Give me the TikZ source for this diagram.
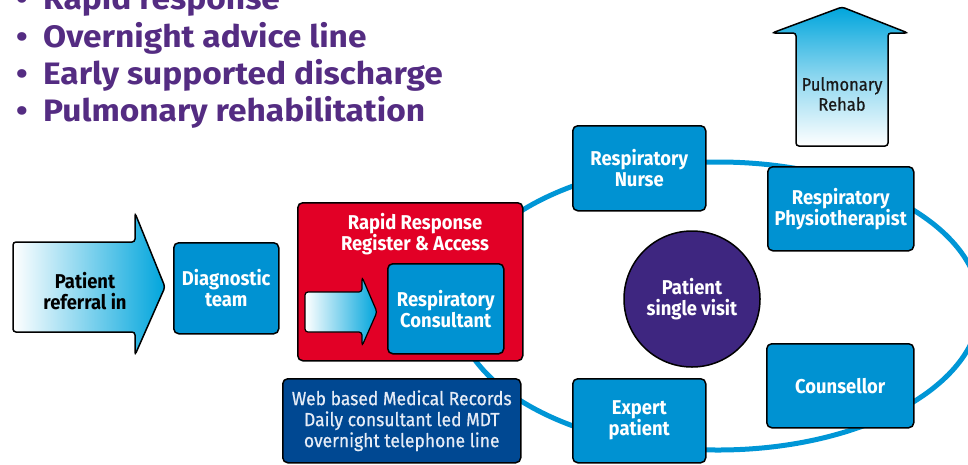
\documentclass[tikz,border=0pt]{standalone}
\usepackage{fontspec}
\setmainfont{Fira Sans}
\newfontfamily\cond[FakeStretch=0.92]{Fira Sans}
\newfontfamily\condmed[FakeStretch=0.92,FakeBold=0.6]{Fira Sans}
\newfontfamily\wide[FakeStretch=1.08]{Fira Sans}
\definecolor{boxblue}{RGB}{0,146,210}
\definecolor{arrblue}{RGB}{0,165,220}
\definecolor{ellblue}{RGB}{0,150,214}
\definecolor{rrred}{RGB}{226,0,38}
\definecolor{webblue}{RGB}{0,72,146}
\definecolor{circpurple}{RGB}{62,38,128}
\definecolor{txtpurple}{RGB}{84,44,130}
\definecolor{webtext}{RGB}{230,236,246}
\begin{document}
\begin{tikzpicture}[x=1pt,y=-1pt,
  box/.style={draw=black, line width=1.5pt, rounded corners=5pt, fill=boxblue,
    text=white, font=\cond\bfseries\fontsize{20}{21}\selectfont, align=center,
    inner sep=0pt, anchor=north west},
  bullettext/.style={anchor=base west, text=txtpurple, font=\wide\bfseries\fontsize{31}{31}\selectfont, inner sep=0pt},
  bulletdot/.style={anchor=base, text=txtpurple, font=\wide\bfseries\fontsize{31}{31}\selectfont, inner sep=0pt},
  arrowshape/.style={draw=black, line width=1.5pt, rounded corners=3pt},
]
\useasboundingbox (0,0) rectangle (968,464);

% bullets
\node[bulletdot] (d1) at (22,9) {•};
\node[bullettext] (t1) at (43,9) {Rapid response};
\node[bulletdot] (d2) at (22,47) {•};
\node[bullettext] (t2) at (43,47) {Overnight advice line};
\node[bulletdot] (d3) at (22,84) {•};
\node[bullettext] (t3) at (43,84) {Early supported discharge};
\node[bulletdot] (d4) at (22,121) {•};
\node[bullettext] (t4) at (43,121) {Pulmonary rehabilitation};

% ring
\draw[ellblue, line width=5pt] (718,306) ellipse [x radius=262, y radius=144];

% patient referral arrow
\draw[arrowshape, left color=white, middle color=arrblue!65!white, right color=arrblue]
  (13,242) -- (135,242) -- (135,213) -- (165,287) -- (135,355) -- (135,332) -- (13,332) -- cycle;
\node[font=\cond\bfseries\fontsize{20}{21}\selectfont, align=center, text=black] (ref) at (85,291) {Patient\\referral in};

% diagnostic
\node[box, minimum width=105, minimum height=91] (diag) at (173,242) {Diagnostic\\team};

% rapid response
\node[box, fill=rrred, minimum width=225, minimum height=158] (rr) at (297,202) {};
\node[font=\cond\bfseries\fontsize{20}{21}\selectfont, align=center, text=white] (rrt) at (415,234) {Rapid Response\\Register \& Access};
\draw[arrowshape, line width=1.2pt, left color=white, middle color=arrblue!65!white, right color=arrblue]
  (305,292) -- (362,292) -- (362,277) -- (377,312) -- (362,346) -- (362,332) -- (305,332) -- cycle;
\node[box, minimum width=116, minimum height=90] (cons) at (387,263) {Respiratory\\Consultant};

% web box
\node[box, fill=webblue, text=webtext, font=\condmed\fontsize{19}{21}\selectfont, minimum width=238, minimum height=84] (web) at (282,378) {Web based Medical Records\\Daily consultant led MDT\\overnight telephone line};

% ring members
\node[box, minimum width=133, minimum height=85] (nurse) at (572,125) {Respiratory\\Nurse};
\node[box, minimum width=146, minimum height=84] (physio) at (767,166) {Respiratory\\Physiotherapist};
\node[box, minimum width=147, minimum height=84] (couns) at (766,343) {Counsellor};
\node[box, minimum width=133, minimum height=84] (expert) at (572,378) {Expert\\patient};

% patient circle
\node[circle, draw=black, line width=1.5pt, fill=circpurple, minimum size=136, inner sep=0pt,
  text=white, font=\cond\bfseries\fontsize{20}{21}\selectfont, align=center] (pat) at (692,299) {Patient\\single visit};

% pulmonary rehab arrow
\draw[arrowshape, top color=arrblue, bottom color=white, middle color=arrblue!45!white]
  (796,146) -- (796,33) -- (772,33) -- (842,7) -- (908,33) -- (888,33) -- (888,146) -- cycle;
\node[font=\condmed\fontsize{18}{20}\selectfont, align=center, text=black!90] (pr) at (842,94) {Pulmonary\\Rehab};
\end{tikzpicture}
\end{document}
